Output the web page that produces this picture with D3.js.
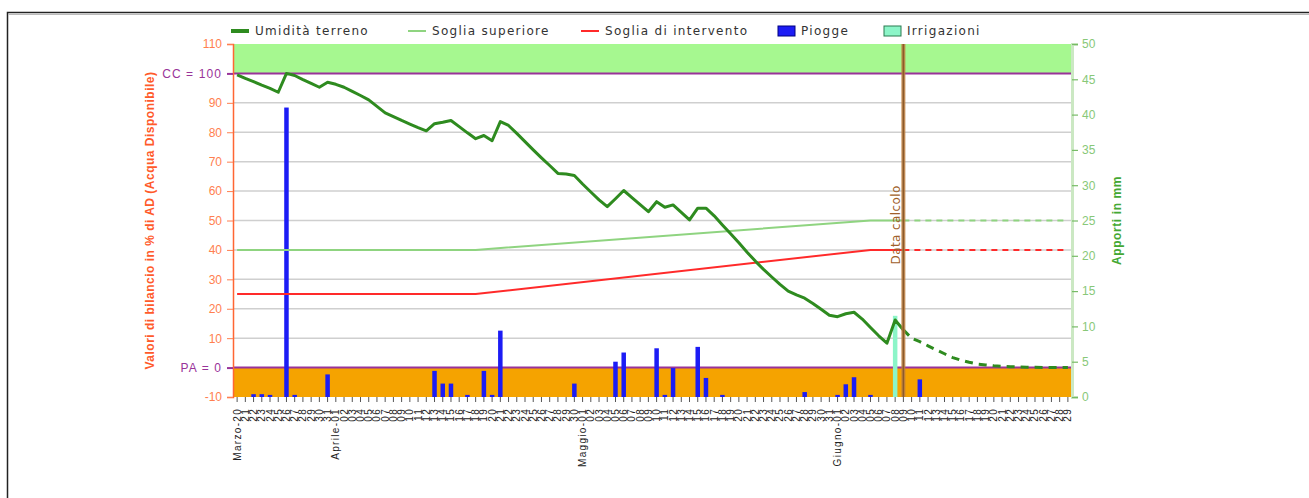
<!DOCTYPE html>
<html>
<head>
<meta charset="utf-8">
<script src="https://cdn.jsdelivr.net/npm/d3@7"></script>
<style>
  html, body { margin: 0; padding: 0; background: #fff; }
  svg { display: block; }
</style>
</head>
<body>
<svg id="chart" width="1309" height="498" font-family="Liberation Sans, Arial, sans-serif"></svg>
<script>
// ---- Data ----------------------------------------------------------------
const startDay = "2013-03-20";
const endDay = "2013-06-29";
const monthNames = ["Gennaio", "Febbraio", "Marzo", "Aprile", "Maggio", "Giugno",
  "Luglio", "Agosto", "Settembre", "Ottobre", "Novembre", "Dicembre"];

// Soil moisture (% of available water), daily from 20 March to 9 June
const umidita = [
  99.5, 98.3, 97.2, 96.0, 94.9, 93.6, 100.0, 99.3, 97.9, 96.6,
  95.3, 97.0, 96.3, 95.3, 93.9, 92.5, 91.0, 88.8, 86.6, 85.3,
  84.0, 82.8, 81.6, 80.5, 82.9, 83.4, 84.0, 81.9, 79.8, 77.8,
  78.9, 77.1, 83.6, 82.3, 79.6, 76.8, 74.0, 71.3, 68.7, 66.0,
  65.8, 65.3, 62.4, 59.7, 57.0, 54.7, 57.4, 60.2, 57.8, 55.4,
  53.0, 56.4, 54.5, 55.3, 52.8, 50.2, 54.2, 54.2, 51.6, 48.5,
  45.5, 42.4, 39.2, 36.2, 33.4, 30.8, 28.3, 26.0, 24.7, 23.6,
  21.8, 19.8, 17.8, 17.3, 18.3, 18.8, 16.5, 13.6, 10.8, 8.3,
  16.2, 12.8
];
// Forecast soil moisture, from 9 June to 29 June
const previsione = [
  12.8, 10.0, 8.8, 7.4, 6.0, 4.7, 3.4, 2.5, 1.8, 1.2,
  0.9, 0.6, 0.4, 0.3, 0.2, 0.1, 0.1, 0.0, 0.0, 0.0, 0.0
];

// Thresholds: breakpoints [day, value]
const sogliaSuperiore = [["2013-03-20", 40], ["2013-04-18", 40], ["2013-06-05", 50], ["2013-06-09", 50]];
const sogliaSuperioreProiezione = [["2013-06-09", 50], ["2013-06-29", 50]];
const sogliaIntervento = [["2013-03-20", 25], ["2013-04-18", 25], ["2013-06-05", 40], ["2013-06-09", 40]];
const sogliaInterventoProiezione = [["2013-06-09", 40], ["2013-06-29", 40]];

// Rainfall (mm)
const pioggeGiorni = ["2013-03-22", "2013-03-23", "2013-03-24", "2013-03-26", "2013-03-27", "2013-03-31",
  "2013-04-13", "2013-04-14", "2013-04-15", "2013-04-17", "2013-04-19", "2013-04-20", "2013-04-21",
  "2013-04-30", "2013-05-05", "2013-05-06", "2013-05-10", "2013-05-11", "2013-05-12", "2013-05-15",
  "2013-05-16", "2013-05-18", "2013-05-28", "2013-06-01", "2013-06-02", "2013-06-03", "2013-06-05",
  "2013-06-11"];
const pioggeMm = [0.4, 0.4, 0.3, 41.0, 0.3, 3.2,
  3.7, 1.9, 1.9, 0.3, 3.7, 0.3, 9.4,
  1.9, 5.0, 6.3, 6.9, 0.3, 4.1, 7.1,
  2.7, 0.3, 0.7, 0.3, 1.8, 2.8, 0.3,
  2.5];

// Irrigation (mm)
const irrigazioniGiorni = ["2013-06-08"];
const irrigazioniMm = [11.5];

const dataCalcolo = "2013-06-09";

const leftTicks = [-10, 0, 10, 20, 30, 40, 50, 60, 70, 80, 90, 100, 110];
const rightTicks = [0, 5, 10, 15, 20, 25, 30, 35, 40, 45, 50];

const legendItems = [
  { label: "Umidità terreno", kind: "line", color: "#2e8b1f", width: 4 },
  { label: "Soglia superiore", kind: "line", color: "#8fd480", width: 2 },
  { label: "Soglia di intervento", kind: "line", color: "#ff2a2a", width: 2 },
  { label: "Piogge", kind: "rect", color: "#1c1cf5", stroke: "#000080" },
  { label: "Irrigazioni", kind: "rect", color: "#8cf5c8", stroke: "#2a7a50" }
];

// ---- Layout --------------------------------------------------------------
const svg = d3.select("#chart");
const plot = { left: 233, right: 1072, top: 44, bottom: 397 };
const SANS = "Liberation Sans, Arial, sans-serif";
const WIDE = "DejaVu Sans, Verdana, sans-serif";

const parse = d3.timeParse("%Y-%m-%d");
const fmtKey = d3.timeFormat("%Y-%m-%d");
const days = d3.timeDay.range(parse(startDay), d3.timeDay.offset(parse(endDay), 1)).map(fmtKey);

const x = d3.scaleBand().domain(days).range([plot.left, plot.right]).paddingInner(0).paddingOuter(0);
const cx = d => x(d) + x.bandwidth() / 2;
const y = d3.scaleLinear().domain([-10, 110]).range([plot.bottom, plot.top]);
const yR = d3.scaleLinear().domain([0, 50]).range([plot.bottom, plot.top]);

// Outer frame
svg.append("rect").attr("x", 7.5).attr("y", 12.5).attr("width", 1400).attr("height", 600)
  .attr("fill", "none").attr("stroke", "#222").attr("stroke-width", 1.5);
svg.append("line").attr("x1", 8).attr("x2", 1309).attr("y1", 14.5).attr("y2", 14.5)
  .attr("stroke", "#bbb").attr("stroke-width", 1);

// Bands above field capacity and below wilting point
svg.append("rect").attr("x", plot.left).attr("width", plot.right - plot.left)
  .attr("y", y(110)).attr("height", y(100) - y(110)).attr("fill", "#a6f890");
svg.append("rect").attr("x", plot.left).attr("width", plot.right - plot.left)
  .attr("y", y(0)).attr("height", y(-10) - y(0)).attr("fill", "#f5a300");

// Horizontal grid
svg.append("g").selectAll("line")
  .data(leftTicks.filter(v => v > 0 && v < 100))
  .join("line")
  .attr("x1", plot.left).attr("x2", plot.right)
  .attr("y1", d => y(d)).attr("y2", d => y(d))
  .attr("stroke", "#cfcfcf").attr("stroke-width", 1.5);

// Field capacity / wilting point lines
[100, 0].forEach(v => {
  svg.append("line").attr("x1", plot.left).attr("x2", plot.right)
    .attr("y1", y(v)).attr("y2", y(v)).attr("stroke", "#993399").attr("stroke-width", 2);
});

// Rain bars
const barW = 4.5;
svg.append("g").selectAll("rect")
  .data(pioggeGiorni.map((d, i) => ({ d, v: pioggeMm[i] })))
  .join("rect")
  .attr("x", d => cx(d.d) - barW / 2)
  .attr("width", barW)
  .attr("y", d => yR(d.v))
  .attr("height", d => yR(0) - yR(d.v))
  .attr("fill", "#1c1cf5");

// Irrigation bars
svg.append("g").selectAll("rect")
  .data(irrigazioniGiorni.map((d, i) => ({ d, v: irrigazioniMm[i] })))
  .join("rect")
  .attr("x", d => cx(d.d) - barW / 2)
  .attr("width", barW)
  .attr("y", d => yR(d.v))
  .attr("height", d => yR(0) - yR(d.v))
  .attr("fill", "#8cf5c8");

// Threshold lines
const line = d3.line().x(d => cx(d[0])).y(d => y(d[1]));
function drawPath(data, color, width, dash) {
  svg.append("path").datum(data).attr("d", line)
    .attr("fill", "none").attr("stroke", color).attr("stroke-width", width)
    .attr("stroke-dasharray", dash || null).attr("stroke-linejoin", "round");
}
drawPath(sogliaSuperiore, "#8fd480", 2);
drawPath(sogliaSuperioreProiezione, "#8fd480", 2, "6,5");
drawPath(sogliaIntervento, "#ff2a2a", 2);
drawPath(sogliaInterventoProiezione, "#ff2a2a", 2, "6,5");

// Soil moisture
const startIdx = days.indexOf(dataCalcolo);
drawPath(umidita.map((v, i) => [days[i], v]), "#2e8b1f", 3);
drawPath(previsione.map((v, i) => [days[startIdx + i], v]), "#2e8b1f", 3, "8,6");

// Calculation date marker
const xc = cx(dataCalcolo);
svg.append("line").attr("x1", xc).attr("x2", xc).attr("y1", plot.top).attr("y2", plot.bottom)
  .attr("stroke", "#c08040").attr("stroke-width", 4).attr("opacity", 0.85);
svg.append("line").attr("x1", xc).attr("x2", xc).attr("y1", plot.top).attr("y2", plot.bottom)
  .attr("stroke", "#8b5a2b").attr("stroke-width", 1.5);
svg.append("text")
  .attr("transform", `translate(${xc - 3},${y(48.5)}) rotate(-90)`)
  .attr("text-anchor", "middle")
  .attr("fill", "#a0602a").attr("font-size", 12).attr("letter-spacing", 0.4)
  .attr("font-family", WIDE)
  .text("Data calcolo");

// Left axis
const isSpecial = v => v === 100 || v === 0;
const axL = svg.append("g").attr("transform", `translate(${plot.left},0)`)
  .call(d3.axisLeft(y).tickValues(leftTicks).tickSize(6).tickPadding(5)
    .tickFormat(v => v === 100 ? "CC = 100" : v === 0 ? "PA = 0" : v));
axL.select(".domain").attr("stroke", "#ff6633").attr("stroke-width", 1.5);
axL.selectAll(".tick line").attr("stroke", d => isSpecial(d) ? "#993399" : "#ff7f50")
  .attr("stroke-width", d => isSpecial(d) ? 2 : 1);
axL.selectAll(".tick text").attr("fill", d => isSpecial(d) ? "#993399" : "#ff7f50")
  .attr("font-size", 12).attr("font-family", SANS)
  .attr("letter-spacing", d => isSpecial(d) ? 1.1 : 0);

svg.append("text")
  .attr("transform", `translate(154,${(plot.top + plot.bottom) / 2}) rotate(-90)`)
  .attr("text-anchor", "middle").attr("fill", "#ff5a2a").attr("font-family", SANS)
  .attr("font-size", 12).attr("font-weight", "bold").attr("letter-spacing", 0.5)
  .text("Valori di bilancio in % di AD (Acqua Disponibile)");

// Right axis
const axR = svg.append("g").attr("transform", `translate(${plot.right},0)`)
  .call(d3.axisRight(yR).tickValues(rightTicks).tickSize(6).tickPadding(4));
axR.select(".domain").attr("stroke", "#cbe8c3").attr("stroke-width", 3);
axR.selectAll(".tick line").attr("stroke", "#77bb66").attr("stroke-width", 1.2);
axR.selectAll(".tick text").attr("fill", "#88c878").attr("font-size", 12)
  .attr("font-family", SANS);

svg.append("text")
  .attr("transform", `translate(1121,${(plot.top + plot.bottom) / 2}) rotate(-90)`)
  .attr("text-anchor", "middle").attr("fill", "#44a833").attr("font-family", SANS)
  .attr("font-size", 12).attr("font-weight", "bold").attr("letter-spacing", 0.6)
  .text("Apporti in mm");

// Bottom axis: one tick per day
const dayLabel = k => {
  const dt = parse(k);
  const dd = d3.timeFormat("%d")(dt);
  return (k === startDay || dt.getDate() === 1) ? `${monthNames[dt.getMonth()]}-${dd}` : dd;
};
const axB = svg.append("g").attr("transform", `translate(0,${plot.bottom})`)
  .call(d3.axisBottom(x).tickSize(5).tickPadding(3).tickFormat(dayLabel));
axB.select(".domain").remove();
axB.selectAll(".tick line").attr("stroke", "#555");
axB.selectAll(".tick text")
  .attr("transform", "rotate(-90)")
  .attr("text-anchor", "end")
  .attr("dy", "0.35em")
  .attr("x", -11).attr("y", 0)
  .attr("fill", "#222").attr("font-size", 10).attr("letter-spacing", 1.3)
  .attr("font-family", SANS);

// Legend
const legendX = [231, 408, 581, 778, 884];
const lg = svg.append("g").attr("transform", "translate(0,31)");
legendItems.forEach((it, i) => {
  const g = lg.append("g").attr("transform", `translate(${legendX[i]},0)`);
  if (it.kind === "line") {
    g.append("line").attr("x1", 0).attr("x2", 18).attr("y1", 0).attr("y2", 0)
      .attr("stroke", it.color).attr("stroke-width", it.width);
  } else {
    g.append("rect").attr("x", 0).attr("y", -5).attr("width", 17).attr("height", 10)
      .attr("fill", it.color).attr("stroke", it.stroke).attr("stroke-width", 1);
  }
  g.append("text").attr("x", it.kind === "line" ? 24 : 23).attr("y", 0).attr("dy", "0.35em")
    .attr("font-size", 12).attr("fill", "#333").attr("letter-spacing", 1.3)
    .attr("font-family", WIDE)
    .text(it.label);
});
</script>
</body>
</html>
